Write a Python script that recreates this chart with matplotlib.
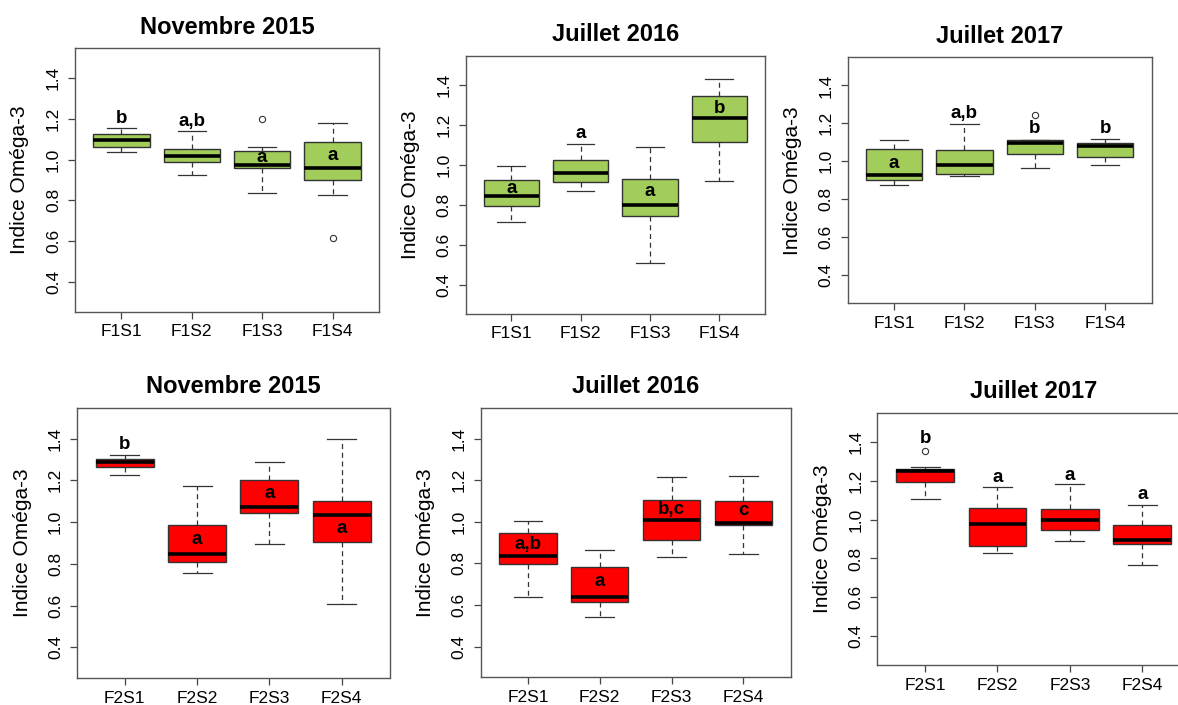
import matplotlib
matplotlib.use('Agg')
import matplotlib.pyplot as plt

plt.rcParams['font.family'] = ['Liberation Sans', 'DejaVu Sans']

green = '#A2CD5A'
red = '#FF0000'
edge = '#333333'

f1_names = ['F1S1', 'F1S2', 'F1S3', 'F1S4']
f2_names = ['F2S1', 'F2S2', 'F2S3', 'F2S4']
ytick_vals = [0.4, 0.6, 0.8, 1.0, 1.2, 1.4]
ytick_labels = ['0.4', '0.6', '0.8', '1.0', '1.2', '1.4']

# Novembre 2015 - F1
nov15_f1_lo = [1.036, 0.924, 0.837, 0.826]
nov15_f1_q1 = [1.064, 0.987, 0.960, 0.901]
nov15_f1_med = [1.098, 1.018, 0.973, 0.961]
nov15_f1_q3 = [1.126, 1.051, 1.041, 1.085]
nov15_f1_hi = [1.154, 1.142, 1.062, 1.180]
nov15_f1_out = [[], [], [1.198], [0.614]]
nov15_f1_let = ['b', 'a,b', 'a', 'a']
nov15_f1_let_y = [1.204, 1.188, 1.008, 1.020]

# Juillet 2016 - F1
jul16_f1_lo = [0.713, 0.869, 0.508, 0.919]
jul16_f1_q1 = [0.794, 0.916, 0.746, 1.114]
jul16_f1_med = [0.844, 0.957, 0.799, 1.235]
jul16_f1_q3 = [0.926, 1.027, 0.929, 1.345]
jul16_f1_hi = [0.996, 1.107, 1.089, 1.433]
jul16_f1_out = [[], [], [], []]
jul16_f1_let = ['a', 'a', 'a', 'b']
jul16_f1_let_y = [0.883, 1.157, 0.869, 1.285]

# Juillet 2017 - F1
jul17_f1_lo = [0.876, 0.922, 0.966, 0.982]
jul17_f1_q1 = [0.903, 0.933, 1.037, 1.021]
jul17_f1_med = [0.928, 0.980, 1.097, 1.079]
jul17_f1_q3 = [1.065, 1.060, 1.113, 1.094]
jul17_f1_hi = [1.114, 1.194, 1.113, 1.119]
jul17_f1_out = [[], [], [1.243], []]
jul17_f1_let = ['a', 'a,b', 'b', 'b']
jul17_f1_let_y = [0.991, 1.252, 1.172, 1.172]

# Novembre 2015 - F2
nov15_f2_lo = [1.227, 0.755, 0.893, 0.607]
nov15_f2_q1 = [1.265, 0.807, 1.042, 0.904]
nov15_f2_med = [1.286, 0.848, 1.074, 1.036]
nov15_f2_q3 = [1.303, 0.987, 1.204, 1.101]
nov15_f2_hi = [1.320, 1.171, 1.287, 1.398]
nov15_f2_out = [[], [], [], []]
nov15_f2_let = ['b', 'a', 'a', 'a']
nov15_f2_let_y = [1.371, 0.916, 1.136, 0.969]

# Juillet 2016 - F2
jul16_f2_lo = [0.640, 0.544, 0.829, 0.846]
jul16_f2_q1 = [0.798, 0.614, 0.912, 0.986]
jul16_f2_med = [0.837, 0.640, 1.008, 0.994]
jul16_f2_q3 = [0.946, 0.782, 1.107, 1.102]
jul16_f2_hi = [1.002, 0.866, 1.216, 1.219]
jul16_f2_out = [[], [], [], []]
jul16_f2_let = ['a,b', 'a', 'b,c', 'c']
jul16_f2_let_y = [0.890, 0.714, 1.058, 1.053]

# Juillet 2017 - F2
jul17_f2_lo = [1.105, 0.827, 0.889, 0.766]
jul17_f2_q1 = [1.191, 0.864, 0.947, 0.874]
jul17_f2_med = [1.251, 0.979, 0.996, 0.896]
jul17_f2_q3 = [1.258, 1.059, 1.056, 0.974]
jul17_f2_hi = [1.272, 1.165, 1.181, 1.075]
jul17_f2_out = [[1.350], [], [], []]
jul17_f2_let = ['b', 'a', 'a', 'a']
jul17_f2_let_y = [1.417, 1.215, 1.229, 1.127]

W, H = 1178, 705


def draw_panel(box_px, title, names, lo, q1, med, q3, hi, out, letters, let_y, color):
    x0, y0, x1, y1 = box_px
    ax = fig.add_axes([x0 / W, 1 - y1 / H, (x1 - x0) / W, (y1 - y0) / H])
    stats = []
    for i in range(len(names)):
        stats.append(dict(whislo=lo[i], q1=q1[i], med=med[i], q3=q3[i],
                          whishi=hi[i], fliers=out[i]))
    ax.bxp(stats, positions=[1, 2, 3, 4], widths=0.8, capwidths=0.4, patch_artist=True,
           boxprops=dict(facecolor=color, edgecolor=edge, linewidth=1),
           whiskerprops=dict(color=edge, linestyle=(0, (4, 3)), linewidth=0.9),
           capprops=dict(color=edge, linewidth=0.9),
           medianprops=dict(color='black', linewidth=2.6),
           flierprops=dict(marker='o', markerfacecolor='none', markeredgecolor=edge,
                           markersize=4.5, markeredgewidth=0.8))
    for i, t in enumerate(letters):
        ax.text(i + 1, let_y[i], t, ha='center', va='center', fontsize=13.5,
                fontweight='bold', color='black')
    ax.set_xlim(0.34, 4.66)
    ax.set_ylim(0.252, 1.548)
    ax.set_xticks([1, 2, 3, 4])
    ax.set_xticklabels(names)
    ax.set_yticks(ytick_vals)
    ax.set_yticklabels(ytick_labels, rotation=90, va='center')
    ax.tick_params(axis='both', labelsize=12.5, length=5, width=0.9, color='#444444')
    ax.tick_params(axis='x', pad=4)
    ax.tick_params(axis='y', pad=5)
    for s in ax.spines.values():
        s.set_color('#555555')
        s.set_linewidth(1)
    ax.set_ylabel('Indice Oméga-3', fontsize=15, va='center')
    ax.yaxis.set_label_coords(-55 / (x1 - x0), 0.5)
    ax.text(0.5, 1 + 21 / (y1 - y0), title, transform=ax.transAxes, ha='center',
            va='center', fontsize=17, fontweight='bold')
    return ax


fig = plt.figure(figsize=(W / 100, H / 100), dpi=100)

draw_panel((75, 48, 379, 312), 'Novembre 2015', f1_names, nov15_f1_lo, nov15_f1_q1,
           nov15_f1_med, nov15_f1_q3, nov15_f1_hi, nov15_f1_out, nov15_f1_let,
           nov15_f1_let_y, green)
draw_panel((465.5, 55.7, 765, 314), 'Juillet 2016', f1_names, jul16_f1_lo, jul16_f1_q1,
           jul16_f1_med, jul16_f1_q3, jul16_f1_hi, jul16_f1_out, jul16_f1_let,
           jul16_f1_let_y, green)
draw_panel((847.7, 57.3, 1151.5, 303.3), 'Juillet 2017', f1_names, jul17_f1_lo, jul17_f1_q1,
           jul17_f1_med, jul17_f1_q3, jul17_f1_hi, jul17_f1_out, jul17_f1_let,
           jul17_f1_let_y, green)
draw_panel((77, 407.7, 389.5, 678.3), 'Novembre 2015', f2_names, nov15_f2_lo, nov15_f2_q1,
           nov15_f2_med, nov15_f2_q3, nov15_f2_hi, nov15_f2_out, nov15_f2_let,
           nov15_f2_let_y, red)
draw_panel((480.7, 408, 790.6, 677.3), 'Juillet 2016', f2_names, jul16_f2_lo, jul16_f2_q1,
           jul16_f2_med, jul16_f2_q3, jul16_f2_hi, jul16_f2_out, jul16_f2_let,
           jul16_f2_let_y, red)
draw_panel((877.3, 413, 1190, 665), 'Juillet 2017', f2_names, jul17_f2_lo, jul17_f2_q1,
           jul17_f2_med, jul17_f2_q3, jul17_f2_hi, jul17_f2_out, jul17_f2_let,
           jul17_f2_let_y, red)

fig.savefig('out.png', dpi=100)
